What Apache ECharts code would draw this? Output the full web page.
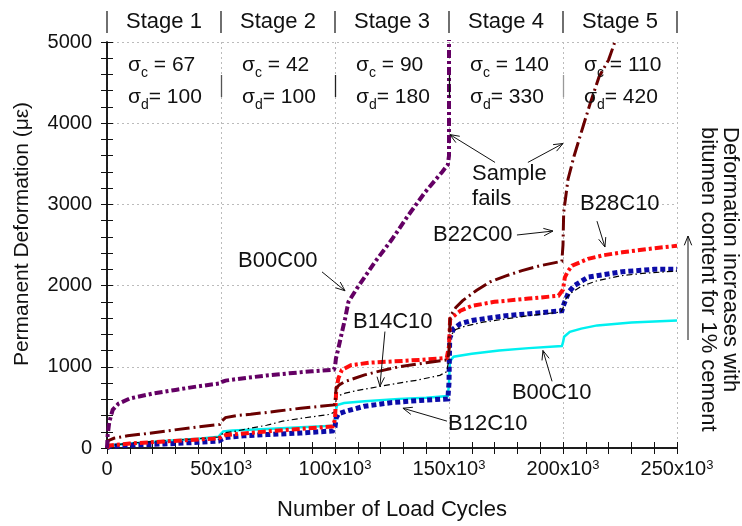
<!DOCTYPE html>
<html>
<head>
<meta charset="utf-8">
<style>
  html, body { margin: 0; padding: 0; background: #fff; }
  #chart { width: 742px; height: 526px; }
</style>
<script src="https://cdn.jsdelivr.net/npm/echarts@6/dist/echarts.min.js"></script>
</head>
<body>
<div id="chart"></div>
<script>
// Permanent deformation (microstrain) against load cycles, multi-stage triaxial test.
// Each series is a list of [cycles, microstrain] pairs.
const b00c00 = [[0,0],[300,160],[1000,320],[2500,470],[5000,545],[10000,610],[20000,670],[30000,715],[40000,760],[49500,795],[50500,815],[52000,830],[60000,860],[70000,893],[80000,920],[90000,945],[99500,965],[100000,1000],[100400,1100],[101500,1230],[103000,1420],[104400,1590],[105900,1800],[109500,1960],[117500,2290],[125000,2570],[132000,2860],[139500,3150],[147000,3400],[149500,3490],[150000,3600],[150000,5300]];
const b22c00 = [[0,0],[500,90],[3000,120],[9000,150],[18000,180],[26000,210],[40000,260],[49500,290],[50300,330],[52000,375],[57000,400],[63000,415],[75000,455],[85000,490],[99500,530],[100000,560],[100500,740],[102000,780],[104500,820],[113000,900],[120000,950],[128000,1000],[140000,1050],[149500,1085],[150000,1200],[150500,1620],[153000,1730],[156000,1815],[162000,1940],[168000,2045],[175000,2120],[182000,2185],[190000,2245],[199500,2300],[200000,2500],[200300,2900],[202200,3310],[204800,3590],[208800,3960],[212000,4250],[215800,4570],[220000,4780],[223000,5020],[226000,5250]];
const b28c10 = [[0,0],[1000,30],[10000,55],[25000,80],[40000,105],[49000,120],[50500,140],[52000,160],[60000,180],[70000,205],[85000,235],[99000,265],[100000,350],[100500,700],[101500,860],[103000,960],[107000,1020],[115000,1050],[125000,1065],[137000,1085],[149000,1110],[150000,1250],[150500,1590],[155000,1690],[160000,1750],[170000,1800],[185000,1840],[198000,1875],[200000,1950],[200800,2100],[202000,2170],[204000,2245],[211000,2330],[218000,2375],[226000,2410],[240000,2460],[250000,2490]];
const b14c10 = [[0,0],[1000,30],[10000,60],[25000,90],[40000,115],[49000,135],[50000,160],[51000,185],[55000,200],[63000,245],[70000,280],[77000,330],[85000,365],[98000,415],[100000,450],[100500,600],[101000,640],[104500,675],[110000,710],[120000,760],[128000,800],[136000,835],[146000,895],[149000,940],[150000,1100],[150500,1380],[153000,1460],[157000,1500],[165000,1550],[175000,1590],[185000,1630],[199000,1675],[200000,1720],[200800,1820],[203000,1900],[208000,1990],[215000,2060],[225000,2120],[235000,2150],[250000,2180]];
const b00c10 = [[0,0],[1000,30],[10000,55],[25000,85],[40000,115],[49000,140],[50000,175],[51000,205],[55000,215],[70000,235],[85000,255],[99500,275],[100000,330],[100400,470],[101000,530],[104000,555],[113000,575],[128000,605],[140000,620],[149500,640],[150000,800],[150400,1065],[152000,1125],[160000,1160],[172000,1200],[185000,1230],[199500,1255],[200000,1300],[200500,1370],[203000,1430],[208000,1470],[215000,1510],[230000,1545],[250000,1570]];
const b12c10 = [[0,0],[1000,20],[10000,35],[25000,50],[40000,70],[49000,85],[50500,110],[52000,130],[60000,150],[70000,165],[85000,185],[99000,210],[100000,260],[100500,370],[101500,420],[104500,450],[113000,515],[125000,560],[137000,585],[149500,605],[150000,800],[150300,1350],[152000,1470],[155000,1530],[160000,1570],[175000,1630],[190000,1665],[199500,1690],[200000,1740],[200800,1800],[202500,1920],[205000,2000],[211000,2105],[226000,2170],[240000,2200],[250000,2200]];

// Loading stages: boundaries (cycles), names and stresses
const stageBounds = [0, 50000, 100000, 150000, 200000, 250000];
const stageNames = ['Stage 1', 'Stage 2', 'Stage 3', 'Stage 4', 'Stage 5'];
const sigmaC = [67, 42, 90, 140, 110];
const sigmaD = [100, 100, 180, 330, 420];

// Axis ticks
const xTicks = [0, 50000, 100000, 150000, 200000, 250000];
const yTicks = [0, 1000, 2000, 3000, 4000, 5000];

const FONT = "'Liberation Sans', Arial, Helvetica, sans-serif";
const INK = '#111';

const seriesStyles = [
  { name: 'B00C10', data: b00c10, color: '#00f0f0', width: 2.5, dash: 'solid' },
  { name: 'B12C10', data: b12c10, color: '#0c0ca8', width: 5,   dash: [5, 3] },
  { name: 'B14C10', data: b14c10, color: '#000000', width: 1.2, dash: [6, 3, 1.5, 3] },
  { name: 'B28C10', data: b28c10, color: '#ff0c0c', width: 4,   dash: [8, 3, 3, 3] },
  { name: 'B22C00', data: b22c00, color: '#6a0000', width: 3,   dash: [15, 4, 2, 4] },
  { name: 'B00C00', data: b00c00, color: '#640064', width: 4,   dash: [8, 3, 3, 3] }
];

// Curve labels with pointer arrows (all in data coordinates)
const callouts = [
  { text: 'B00C00', at: [57500, 2304], from: [94300, 2169], to: [104400, 1936] },
  { text: 'B14C10', at: [107900, 1556], from: [121900, 1434], to: [119700, 760] },
  { text: 'B12C10', at: [149600, 294], from: [149100, 331], to: [129800, 490] },
  { text: 'B00C10', at: [177600, 674], from: [195200, 821], to: [191200, 1201] },
  { text: 'B22C00', at: [143000, 2623], from: [179800, 2623], to: [195600, 2672] },
  { text: 'B28C10', at: [207500, 3002], from: [214900, 2794], to: [218400, 2475] },
  { text: 'Sample\nfails', at: [160100, 3217], from: [170200, 3517], to: [150400, 3860] }
];
const extraArrows = [
  { from: [184600, 3517], to: [200000, 3750] }
];

const chart = echarts.init(document.getElementById('chart'), null, { renderer: 'canvas' });

const axisLineStyle = { color: INK, width: 1.5 };
const tickStyle = { color: INK, width: 1 };

function xLabel(v) {
  if (v === 0) return '{n|0}';
  return '{n|' + (v / 1000) + 'x10}{sup|3}';
}

const option = {
  animation: false,
  backgroundColor: '#fff',
  textStyle: { fontFamily: FONT },
  grid: { left: 107, right: 65, top: 42, bottom: 76, containLabel: false },
  xAxis: [
    {
      type: 'value', position: 'bottom', min: xTicks[0], max: xTicks[xTicks.length - 1],
      interval: xTicks[1] - xTicks[0],
      name: 'Number of Load Cycles', nameLocation: 'middle', nameGap: 62,
      nameTextStyle: { fontSize: 22, color: INK, fontFamily: FONT, verticalAlign: 'middle' },
      axisLine: { show: true, lineStyle: axisLineStyle },
      axisTick: { show: true, inside: true, length: 6, lineStyle: tickStyle },
      minorTick: { show: true, splitNumber: 5, length: 6, lineStyle: tickStyle },
      splitLine: { show: true, lineStyle: { color: '#bbb', type: [2, 3], width: 1 } },
      axisLabel: {
        margin: 11, formatter: xLabel,
        rich: {
          n: { fontSize: 20, lineHeight: 24, verticalAlign: 'top', color: INK, fontFamily: FONT },
          sup: { fontSize: 13, lineHeight: 16, verticalAlign: 'top', color: INK, fontFamily: FONT }
        }
      }
    },
    {
      type: 'value', position: 'top', min: xTicks[0], max: xTicks[xTicks.length - 1],
      interval: xTicks[1] - xTicks[0],
      axisLine: { show: true, lineStyle: axisLineStyle },
      axisTick: { show: true, inside: true, length: 6, lineStyle: tickStyle },
      minorTick: { show: true, splitNumber: 5, length: 6, lineStyle: tickStyle },
      splitLine: { show: false },
      axisLabel: { show: false }
    }
  ],
  yAxis: [
    {
      type: 'value', position: 'left', min: yTicks[0], max: yTicks[yTicks.length - 1],
      interval: yTicks[1] - yTicks[0],
      axisLine: { show: true, lineStyle: axisLineStyle },
      axisTick: { show: true, inside: true, length: 6, lineStyle: tickStyle },
      minorTick: { show: true, splitNumber: 5, length: 6, lineStyle: tickStyle },
      splitLine: { show: true, lineStyle: { color: '#bbb', type: [2, 3], width: 1 } },
      axisLabel: { margin: 15, fontSize: 20, color: INK, fontFamily: FONT, formatter: v => String(v) }
    },
    {
      type: 'value', position: 'right', min: yTicks[0], max: yTicks[yTicks.length - 1],
      interval: yTicks[1] - yTicks[0],
      axisLine: { show: true, lineStyle: axisLineStyle },
      axisTick: { show: true, inside: true, length: 6, lineStyle: tickStyle },
      minorTick: { show: true, splitNumber: 5, length: 6, lineStyle: tickStyle },
      splitLine: { show: false },
      axisLabel: { show: false }
    }
  ],
  series: seriesStyles.map(s => ({
    name: s.name,
    type: 'line',
    xAxisIndex: 0,
    yAxisIndex: 0,
    data: s.data,
    showSymbol: false,
    symbol: 'none',
    clip: true,
    smooth: false,
    lineStyle: { color: s.color, width: s.width, type: s.dash, cap: 'butt', join: 'miter' }
  }))
};

chart.setOption(option);

function toPx(p) { return chart.convertToPixel({ gridIndex: 0 }, p); }

const measureCtx = document.createElement('canvas').getContext('2d');
function textWidth(str, size) {
  measureCtx.font = size + 'px ' + FONT;
  return measureCtx.measureText(str).width;
}

function txt(x, y, text, size, extra) {
  return Object.assign({ type: 'text', x: x, y: y, z: 100,
    style: Object.assign({ text: text, font: size + 'px ' + FONT, fill: INK,
      align: 'left', verticalAlign: 'middle' }, (extra && extra.style) || {}) },
    extra && extra.rotation !== undefined ? { rotation: extra.rotation } : {});
}

function arrowShapes(p1, p2) {
  const a = Math.atan2(p2[1] - p1[1], p2[0] - p1[0]);
  const len = 10, spread = 0.38;
  const h1 = [p2[0] - len * Math.cos(a - spread), p2[1] - len * Math.sin(a - spread)];
  const h2 = [p2[0] - len * Math.cos(a + spread), p2[1] - len * Math.sin(a + spread)];
  return [
    { type: 'line', shape: { x1: p1[0], y1: p1[1], x2: p2[0], y2: p2[1] },
      style: { stroke: INK, lineWidth: 1 }, z: 100 },
    { type: 'polyline', shape: { points: [h1, p2, h2] },
      style: { stroke: INK, lineWidth: 1, fill: null }, z: 100 }
  ];
}

// sigma with a lowered subscript, followed by the value
function sigmaText(x, y, sub, rest) {
  const main = 21, small = 14;
  const w1 = textWidth('\u03c3', main);
  const w2 = textWidth(sub, small);
  return [
    txt(x, y, '\u03c3', main),
    txt(x + w1, y + 8, sub, small),
    txt(x + w1 + w2, y, rest, main)
  ];
}

function buildGraphics() {
  const g = [];
  const top = toPx([0, 5000])[1];
  const bottom = toPx([0, 0])[1];
  // Stage header: separators and names above the plot
  stageBounds.forEach(b => {
    const x = toPx([b, 0])[0];
    g.push({ type: 'line', shape: { x1: x, y1: 11, x2: x, y2: 33 },
      style: { stroke: '#222', lineWidth: 1.3 }, z: 100 });
  });
  stageNames.forEach((name, i) => {
    const x0 = toPx([stageBounds[i], 0])[0], x1 = toPx([stageBounds[i + 1], 0])[0];
    g.push(txt((x0 + x1) / 2, 22, name, 22, { style: { align: 'center' } }));
  });
  // Short marks left over from the stage dividers inside the frame
  const stubColors = ['#555', '#222', '#111', '#999'];
  stageBounds.slice(1, 5).forEach((b, i) => {
    const x = toPx([b, 0])[0];
    g.push({ type: 'line', shape: { x1: x + 0.5, y1: top + 33, x2: x + 0.5, y2: top + 55 },
      style: { stroke: stubColors[i], lineWidth: 1.3 }, z: 100 });
  });
  // Confining and deviator stresses per stage
  stageNames.forEach((_, i) => {
    const x = toPx([stageBounds[i], 0])[0] + 21;
    sigmaText(x, top + 23, 'c', ' = ' + sigmaC[i]).forEach(e => g.push(e));
    sigmaText(x, top + 55, 'd', '= ' + sigmaD[i]).forEach(e => g.push(e));
  });
  // Curve labels and pointers
  callouts.forEach(c => {
    const p = toPx(c.at);
    g.push(txt(p[0], p[1], c.text, 22, { style: { lineHeight: 25 } }));
    arrowShapes(toPx(c.from), toPx(c.to)).forEach(s => g.push(s));
  });
  extraArrows.forEach(a => arrowShapes(toPx(a.from), toPx(a.to)).forEach(s => g.push(s)));
  // Vertical axis title
  g.push(txt(22, (top + bottom) / 2 - 11, 'Permanent Deformation (\u03bc\u03b5)', 21,
    { rotation: Math.PI / 2, style: { align: 'center' } }));
  // Side note with upward arrow
  const right = toPx([250000, 0])[0];
  arrowShapes([right + 11, 340], [right + 11, 236]).forEach(s => g.push(s));
  g.push(txt(right + 53, 127, 'Deformation increases with', 22, { rotation: -Math.PI / 2 }));
  g.push(txt(right + 31, 127, 'bitumen content for 1% cement', 22, { rotation: -Math.PI / 2 }));
  return g;
}

chart.setOption({ graphic: buildGraphics() });
</script>
</body>
</html>
